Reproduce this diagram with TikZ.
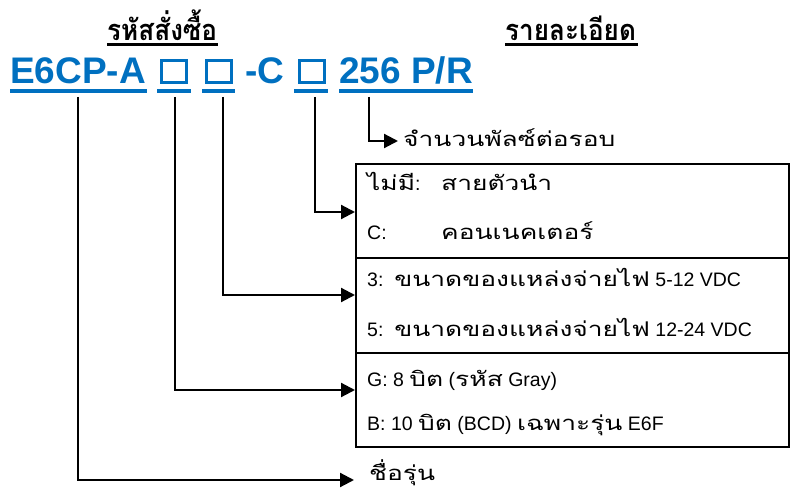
\documentclass[tikz,border=0pt]{standalone}
\usepackage{fontspec}
\setmainfont{Liberation Sans}
\newfontfamily\thf[Script=Thai,Scale=1.04,FakeStretch=1.3]{Loma}
\newfontfamily\thh[Script=Thai,FakeStretch=0.9]{Loma}
\usetikzlibrary{arrows.meta,calc}
\definecolor{codeblue}{HTML}{0070C0}
\begin{document}
\begin{tikzpicture}[x=1pt,y=-1pt,
  code/.style={anchor=base west,inner sep=0pt,text=codeblue,font=\fontsize{37}{40}\selectfont\bfseries},
  sq/.style={draw=codeblue,line width=3pt,minimum width=25pt,minimum height=22pt,inner sep=0pt},
  uline/.style={fill=codeblue},
  head/.style={anchor=base west,inner sep=0pt,font=\fontsize{29}{31}\selectfont\thh\bfseries},
  txt/.style={anchor=base west,inner sep=0pt,font=\fontsize{19.5}{22}\selectfont},
  rowbox/.style={draw,line width=1.8pt,anchor=north west,minimum width=433pt,inner sep=0pt},
  conn/.style={line width=2.2pt,-{Triangle[length=14pt,width=14pt]}},
  ]
\useasboundingbox (0,0) rectangle (790,489);
% headers
\node[head] (h1) at (107,41) {รหัสสั่งซื้อ};
\draw[line width=3pt] (h1.base west)++(0,4) -- ++(111,0);
\node[head] (h2) at (505,41) {รายละเอียด};
\draw[line width=3pt] (h2.base west)++(0,4) -- ++(133,0);
% code line
\node[code] (m) at (10,84) {E6CP-A};
\node[sq] (b1) at (174,71.5) {};
\node[sq] (b2) at (219,71.5) {};
\node[code] (c) at (245,84) {-C};
\node[sq] (b3) at (312,71.5) {};
\node[code] (p) at (339,84) {256 P/R};
\fill[uline] (10,89) rectangle (147,93);
\fill[uline] (157,89) rectangle (191,93);
\fill[uline] (202,89) rectangle (235,93);
\fill[uline] (294,89) rectangle (328,93);
\fill[uline] (339,89) rectangle (473,93);
% boxes
\node[rowbox,minimum height=94pt] (r1) at (355,163) {};
\node[rowbox,minimum height=95pt] (r2) at (355,257) {};
\node[rowbox,minimum height=94pt] (r3) at (355,352) {};
% texts
\node[txt] (t1) at (367,191) {{\thf ไม่มี}:};
\node[txt] (t1b) at (441,191) {\thf สายตัวนำ};
\node[txt] (t2) at (367,240) {C:};
\node[txt] (t2b) at (441,240) {\thf คอนเนคเตอร์};
\node[txt] (t3) at (367,287) {3:\ \ {\thf ขนาดของแหล่งจ่ายไฟ} 5-12 VDC};
\node[txt] (t4) at (367,336) {5:\ \ {\thf ขนาดของแหล่งจ่ายไฟ} 12-24 VDC};
\node[txt] (t5) at (367,386) {G: 8 {\thf บิต} ({\thf รหัส} Gray)};
\node[txt] (t6) at (367,430) {B: 10 {\thf บิต} (BCD) {\thf เฉพาะรุ่น} E6F};
\node[txt] (n0) at (369,480) {\thf ชื่อรุ่น};
\node[txt] (n4) at (403,147) {\thf จำนวนพัลซ์ต่อรอบ};
% connectors
\coordinate (s0) at (78,97);
\coordinate (s1) at (175,97);
\coordinate (s2) at (223,97);
\coordinate (s3) at (315,97);
\coordinate (s4) at (369,97);
\draw[conn] (s4) |- ($(n4.base west)+(-5,-6)$);
\draw[conn] (s3) |- ($(r1.north west)+(0,49)$);
\draw[conn] (s2) |- ($(r2.north west)+(0,38)$);
\draw[conn] (s1) |- ($(r3.north west)+(0,38)$);
\draw[conn] (s0) |- ($(n0.base west)+(-15,0)$);
\end{tikzpicture}
\end{document}
